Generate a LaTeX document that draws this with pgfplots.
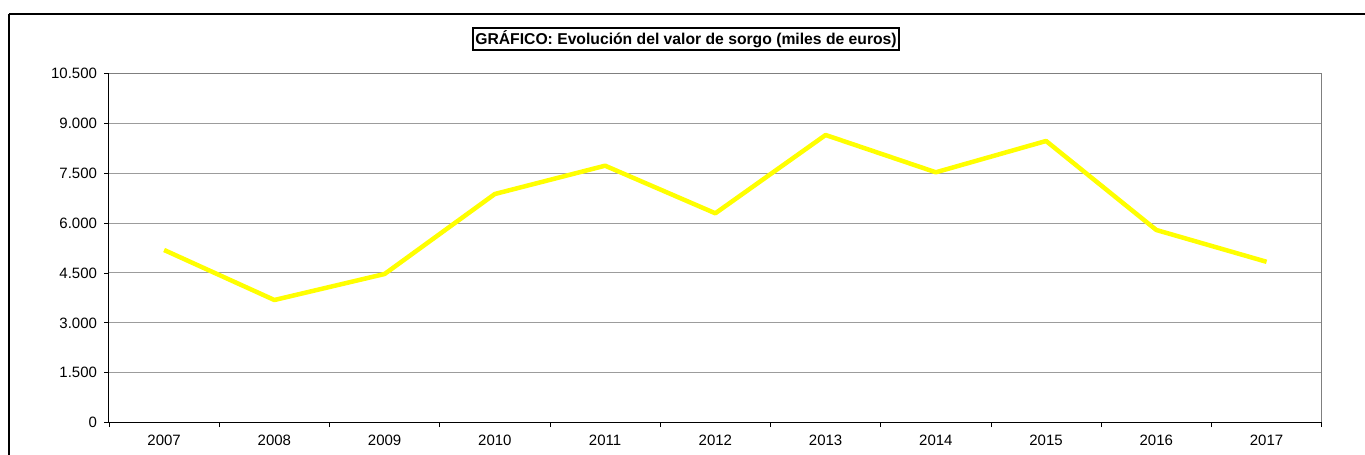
\documentclass[border=0pt]{standalone}
\usepackage{pgfplots}
\pgfplotsset{compat=1.18}
\usepackage{fontspec}
\setmainfont{Liberation Sans}
\definecolor{gridgray}{HTML}{9C9C9C}
\definecolor{borderg}{HTML}{7F7F7F}
\definecolor{lineyellow}{HTML}{FFFF00}
\begin{document}
\begin{tikzpicture}
\begin{axis}[
  name=ax, at={(0,0)}, anchor=south west,
  width=1212.7pt, height=349.4pt, scale only axis,
  xmin=-0.5, xmax=10.5, ymin=0, ymax=10500,
  axis line style={draw=none},
  scaled y ticks=false,
  xtick={0,...,10},
  xticklabels={2007,2008,2009,2010,2011,2012,2013,2014,2015,2016,2017},
  minor xtick={-0.5,0.5,...,10.5},
  ytick={0,1500,3000,4500,6000,7500,9000,10500},
  yticklabels={0,1.500,3.000,4.500,6.000,7.500,9.000,10.500},
  ymajorgrids, grid style={gridgray, line width=1pt},
  major x tick style={draw=none},
  major y tick style={black, line width=0.8pt},
  minor x tick style={black, line width=0.8pt},
  tick align=outside, major tick length=4.5pt, minor tick length=4.5pt,
  xtick pos=bottom, ytick pos=left,
  tick label style={font=\fontsize{15}{18}\selectfont, text=black},
  xticklabel style={yshift=-4pt},
  yticklabel style={xshift=-4pt},
  clip=false,
]
\addplot[draw=lineyellow, line width=4.5pt, line join=round] coordinates {
(0,5190) (1,3687) (2,4469) (3,6873) (4,7723) (5,6293) (6,8646) (7,7525) (8,8466) (9,5791) (10,4835)
};
\draw[borderg, line width=1.2pt] (axis cs:-0.5,10500) -- (axis cs:10.5,10500) -- (axis cs:10.5,0);
\draw[black, line width=1pt] (axis cs:-0.5,10500) -- (axis cs:-0.5,0) -- (axis cs:10.5,0);
\end{axis}
\pgfresetboundingbox
\begin{scope}[shift={(ax.south west)}, x=1pt, y=1pt]
\useasboundingbox (-109,-32.3) rectangle (1256,422.7);
\draw[line width=2.5pt] (-100,408.7) -- (1280,408.7);
\draw[line width=2.5pt] (-100,408.7) -- (-100,-60);
\node[draw, line width=1.5pt, inner sep=2.5pt, font=\bfseries\fontsize{15.7}{18}\selectfont] at (577,383.7) {GRÁFICO: Evolución del valor de sorgo (miles de euros)};
\end{scope}
\end{tikzpicture}
\end{document}
